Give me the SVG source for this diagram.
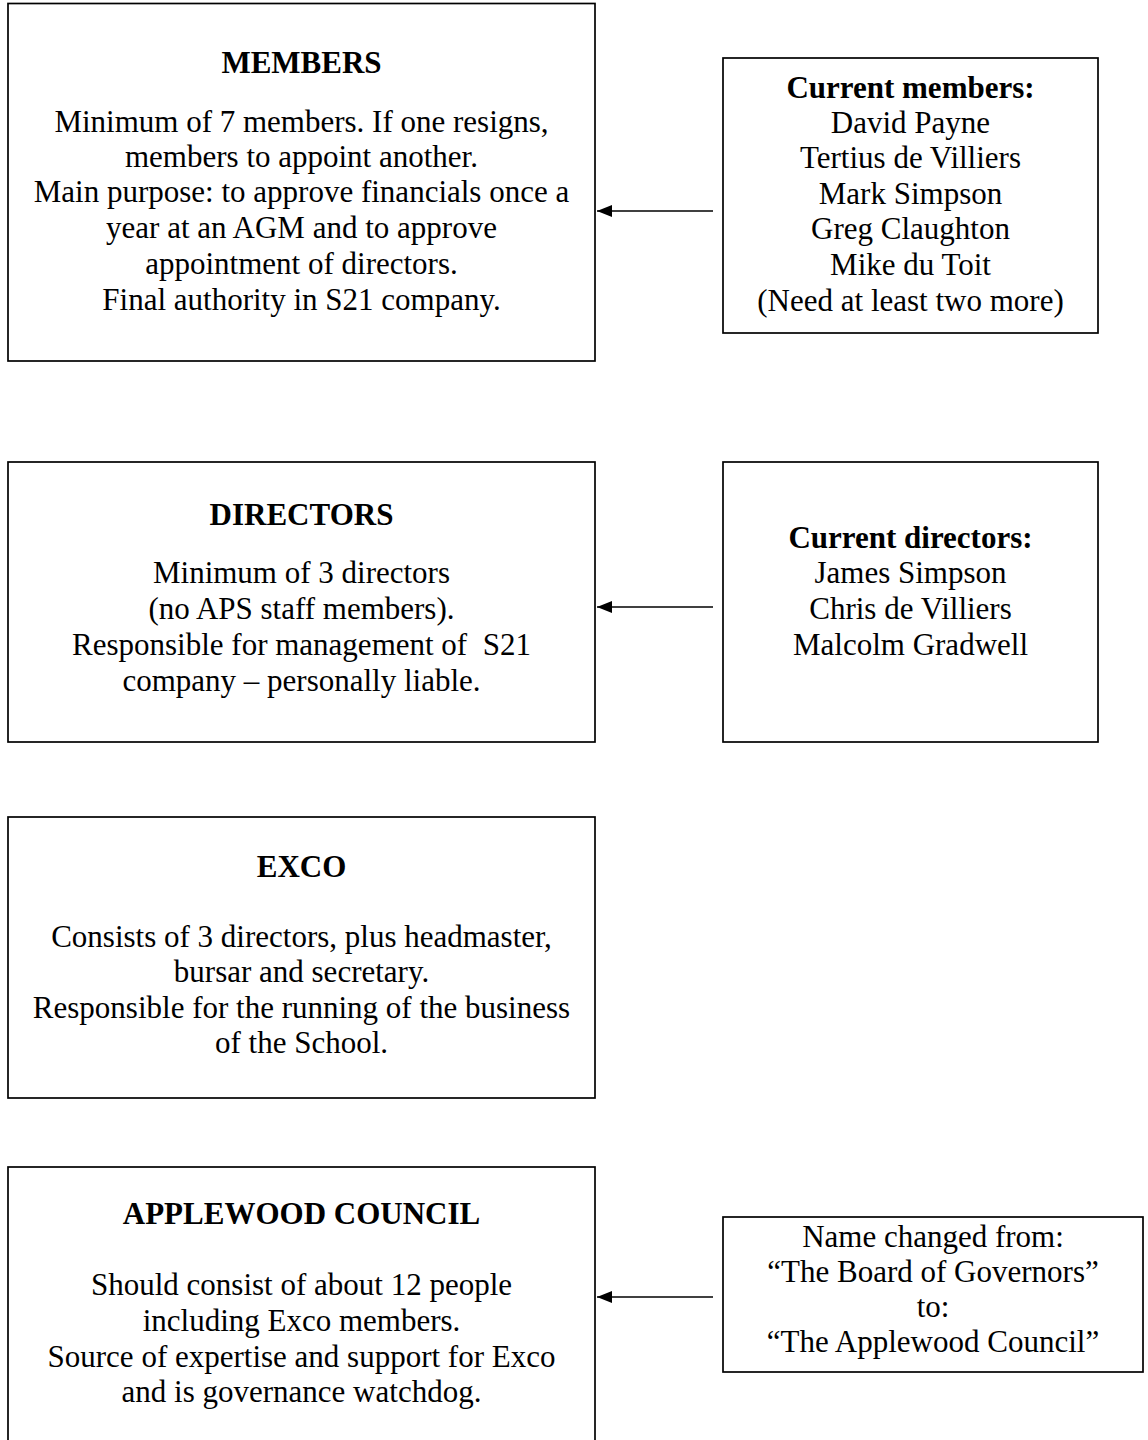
<svg xmlns="http://www.w3.org/2000/svg" width="1148" height="1440" viewBox="0 0 1148 1440">
<style>
.box{fill:#fff;stroke:#000;stroke-width:1.7}
text{font-family:"Liberation Serif","Times New Roman",serif;font-size:31px;fill:#000;text-anchor:middle}
.b{font-weight:bold}
.conn{stroke:#000;stroke-width:1.6;fill:none}
</style>
<defs>
<marker id="ah" markerWidth="16" markerHeight="12" refX="15" refY="6" orient="auto" markerUnits="userSpaceOnUse">
<path d="M0,0 L15,6 L0,12 Z" fill="#000"/>
</marker>
</defs>
<rect width="1148" height="1440" fill="#fff"/>
<g id="members">
<rect class="box" x="8" y="3.5" width="587" height="357.5"/>
<text class="b" x="301.5" y="73">MEMBERS</text>
<text x="301.5" y="132">Minimum of 7 members. If one resigns,</text>
<text x="301.5" y="167">members to appoint another.</text>
<text x="301.5" y="202">Main purpose: to approve financials once a</text>
<text x="301.5" y="238">year at an AGM and to approve</text>
<text x="301.5" y="274">appointment of directors.</text>
<text x="301.5" y="310">Final authority in S21 company.</text>
</g>
<g id="current-members">
<rect class="box" x="723" y="58" width="375" height="275"/>
<text class="b" x="910.5" y="98">Current members:</text>
<text x="910.5" y="133">David Payne</text>
<text x="910.5" y="168">Tertius de Villiers</text>
<text x="910.5" y="204">Mark Simpson</text>
<text x="910.5" y="239">Greg Claughton</text>
<text x="910.5" y="275">Mike du Toit</text>
<text x="910.5" y="311">(Need at least two more)</text>
</g>
<g id="directors">
<rect class="box" x="8" y="462" width="587" height="280"/>
<text class="b" x="301.5" y="525">DIRECTORS</text>
<text x="301.5" y="583">Minimum of 3 directors</text>
<text x="301.5" y="619">(no APS staff members).</text>
<text x="301.5" y="655" xml:space="preserve">Responsible for management of  S21</text>
<text x="301.5" y="691">company – personally liable.</text>
</g>
<g id="current-directors">
<rect class="box" x="723" y="462" width="375" height="280"/>
<text class="b" x="910.5" y="548">Current directors:</text>
<text x="910.5" y="583">James Simpson</text>
<text x="910.5" y="619">Chris de Villiers</text>
<text x="910.5" y="655">Malcolm Gradwell</text>
</g>
<g id="exco">
<rect class="box" x="8" y="817" width="587" height="281"/>
<text class="b" x="301.5" y="877">EXCO</text>
<text x="301.5" y="947">Consists of 3 directors, plus headmaster,</text>
<text x="301.5" y="982">bursar and secretary.</text>
<text x="301.5" y="1018">Responsible for the running of the business</text>
<text x="301.5" y="1053">of the School.</text>
</g>
<g id="applewood-council">
<rect class="box" x="8" y="1167" width="587" height="300"/>
<text class="b" x="301.5" y="1224">APPLEWOOD COUNCIL</text>
<text x="301.5" y="1295">Should consist of about 12 people</text>
<text x="301.5" y="1331">including Exco members.</text>
<text x="301.5" y="1367">Source of expertise and support for Exco</text>
<text x="301.5" y="1402">and is governance watchdog.</text>
</g>
<g id="name-change">
<rect class="box" x="723" y="1217" width="420" height="155"/>
<text x="933" y="1247">Name changed from:</text>
<text x="933" y="1282">“The Board of Governors”</text>
<text x="933" y="1317">to:</text>
<text x="933" y="1352">“The Applewood Council”</text>
</g>
<g id="connectors">
<line class="conn" x1="713" y1="211" x2="597" y2="211" marker-end="url(#ah)"/>
<line class="conn" x1="713" y1="607" x2="597" y2="607" marker-end="url(#ah)"/>
<line class="conn" x1="713" y1="1297" x2="597" y2="1297" marker-end="url(#ah)"/>
</g>
</svg>
